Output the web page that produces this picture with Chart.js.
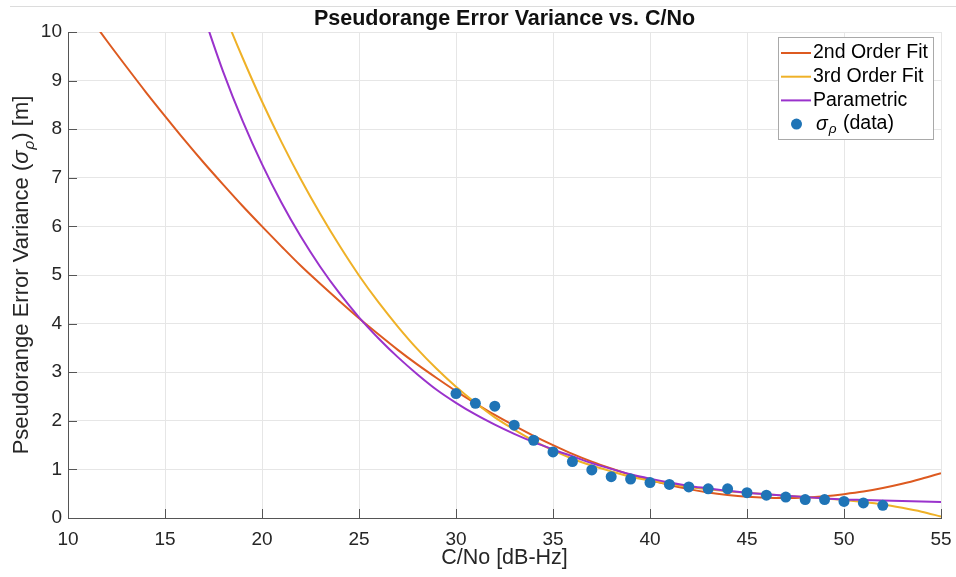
<!DOCTYPE html>
<html>
<head>
<meta charset="utf-8">
<script src="https://cdn.jsdelivr.net/npm/chart.js@4.4.0/dist/chart.umd.min.js"></script>
<style>
  html, body { margin: 0; padding: 0; background: #fff; }
  #wrap { position: relative; width: 956px; height: 577px; }
  #topline { position: absolute; left: 10px; right: 0; top: 6px; height: 1px; background: #dcdcdc; }
</style>
</head>
<body>
<div id="wrap">
  <canvas id="chart" width="956" height="577"></canvas>
  <div id="topline"></div>
</div>
<script>
const fonte = '"Liberation Sans", Arial, Helvetica, sans-serif';

// C/No (dB-Hz) where the fitted curves were read off
const cnoFit2 = [10, 11, 12, 13, 14, 15, 16, 17, 18, 19, 20, 21, 22, 23, 24, 25, 26, 27, 28, 29, 30, 31, 32,
  33, 34, 35, 36, 37, 38, 39, 40, 41, 42, 43, 44, 45, 46, 47, 48, 49, 50, 51, 52, 53, 54, 55];
const fit2 = [10.93, 10.37, 9.82, 9.29, 8.77, 8.27, 7.78, 7.31, 6.86, 6.42, 6.00, 5.59, 5.19, 4.82, 4.46, 4.11,
  3.78, 3.46, 3.16, 2.88, 2.61, 2.36, 2.12, 1.90, 1.69, 1.50, 1.32, 1.16, 1.02, 0.89, 0.78, 0.68, 0.594, 0.526,
  0.475, 0.437, 0.416, 0.411, 0.422, 0.449, 0.491, 0.544, 0.616, 0.703, 0.807, 0.922];

const cnoFit3 = [17, 18, 19, 20, 21, 22, 23, 24, 25, 26, 27, 28, 29, 30, 31, 32, 33, 34, 35, 36, 37, 38, 39,
  40, 41, 42, 43, 44, 45, 46, 47, 48, 49, 50, 51, 52, 53, 54, 55];
const fit3 = [11.46, 10.43, 9.47, 8.57, 7.74, 6.97, 6.26, 5.60, 4.99, 4.44, 3.94, 3.48, 3.07, 2.70, 2.37, 2.07,
  1.82, 1.59, 1.39, 1.22, 1.08, 0.96, 0.85, 0.77, 0.70, 0.64, 0.59, 0.55, 0.52, 0.49, 0.46, 0.43, 0.40, 0.37,
  0.33, 0.28, 0.21, 0.13, 0.03];

const cnoParam = cnoFit3;
const parametrico = [10.33, 9.18, 8.17, 7.28, 6.49, 5.79, 5.17, 4.62, 4.13, 3.70, 3.31, 2.96, 2.64, 2.37, 2.13,
  1.92, 1.73, 1.56, 1.41, 1.27, 1.13, 1.01, 0.90, 0.81, 0.73, 0.66, 0.61, 0.56, 0.52, 0.49, 0.46, 0.43, 0.40,
  0.38, 0.37, 0.36, 0.35, 0.34, 0.33];

// measured sigma_rho
const cnoDados = [30, 31, 32, 33, 34, 35, 36, 37, 38, 39, 40, 41, 42, 43, 44, 45, 46, 47, 48, 49, 50, 51, 52];
const sigmaDados = [2.56, 2.36, 2.30, 1.91, 1.60, 1.36, 1.16, 0.99, 0.85, 0.80, 0.73, 0.69, 0.64, 0.60, 0.60,
  0.52, 0.47, 0.43, 0.38, 0.38, 0.34, 0.31, 0.26];

const nomes = ['2nd Order Fit', '3rd Order Fit', 'Parametric', 'σρ (data)'];
const cores = ['#dd5a20', '#efb127', '#9a32cc', '#1f74b6'];

const pares = (xs, ys) => xs.map((x, i) => ({ x, y: ys[i] }));

// sigma italic with rho subscript, returns width
function sigmaRho(ctx, x, y, tam, medir) {
  ctx.font = `italic ${tam}px ${fonte}`;
  const w1 = ctx.measureText('σ').width;
  if (!medir) ctx.fillText('σ', x, y);
  ctx.font = `italic ${tam * 0.7}px ${fonte}`;
  const w2 = ctx.measureText('ρ').width;
  if (!medir) ctx.fillText('ρ', x + w1 + 1, y + tam * 0.28);
  return w1 + w2 + 2;
}

// title, y label, inward ticks and legend box
const extras = {
  id: 'extras',
  afterDraw(chart) {
    const ctx = chart.ctx;
    const area = chart.chartArea;
    const sx = chart.scales.x, sy = chart.scales.y;
    ctx.save();

    // inward ticks
    ctx.strokeStyle = '#555';
    ctx.lineWidth = 1;
    ctx.beginPath();
    sx.ticks.forEach(t => {
      const px = Math.round(sx.getPixelForValue(t.value)) + 0.5;
      ctx.moveTo(px, area.bottom);
      ctx.lineTo(px, area.bottom - 9);
    });
    sy.ticks.forEach(t => {
      const py = Math.round(sy.getPixelForValue(t.value)) + 0.5;
      ctx.moveTo(area.left, py);
      ctx.lineTo(area.left + 9, py);
    });
    ctx.stroke();

    // title
    ctx.fillStyle = '#111';
    ctx.font = `bold 21.5px ${fonte}`;
    ctx.textAlign = 'center';
    ctx.textBaseline = 'alphabetic';
    ctx.fillText('Pseudorange Error Variance vs. C/No', (area.left + area.right) / 2, 25);

    // y label
    const tam = 22;
    const p1 = 'Pseudorange Error Variance (', p3 = ') [m]';
    ctx.font = `${tam}px ${fonte}`;
    const w1 = ctx.measureText(p1).width;
    const w3 = ctx.measureText(p3).width;
    const w2 = sigmaRho(ctx, 0, 0, tam, true);
    const total = w1 + w2 + w3;
    ctx.translate(28, (area.top + area.bottom) / 2);
    ctx.rotate(-Math.PI / 2);
    ctx.fillStyle = '#262626';
    ctx.textAlign = 'left';
    let x = -total / 2;
    ctx.font = `${tam}px ${fonte}`;
    ctx.fillText(p1, x, 0);
    x += w1;
    sigmaRho(ctx, x, 0, tam, false);
    x += w2;
    ctx.font = `${tam}px ${fonte}`;
    ctx.fillText(p3, x, 0);
    ctx.setTransform(1, 0, 0, 1, 0, 0);

    // legend
    const bx = 778, by = 37, bw = 155, bh = 102;
    ctx.fillStyle = '#fff';
    ctx.fillRect(bx, by, bw, bh);
    ctx.strokeStyle = '#a9a9a9';
    ctx.strokeRect(bx + 0.5, by + 0.5, bw, bh);
    ctx.textBaseline = 'middle';
    chart.data.datasets.forEach((ds, i) => {
      const y = 53 + i * 23.7;
      if (ds.showLine) {
        ctx.strokeStyle = ds.borderColor;
        ctx.lineWidth = 2;
        ctx.beginPath();
        ctx.moveTo(781, y);
        ctx.lineTo(811, y);
        ctx.stroke();
      } else {
        ctx.fillStyle = ds.backgroundColor;
        ctx.beginPath();
        ctx.arc(796.5, y, 5.5, 0, Math.PI * 2);
        ctx.fill();
      }
      ctx.fillStyle = '#000';
      ctx.font = `19.5px ${fonte}`;
      if (ds.label.startsWith('σρ')) {
        const w = sigmaRho(ctx, 816, y, 19.5, false);
        ctx.font = `19.5px ${fonte}`;
        ctx.fillText(ds.label.slice(2), 816 + w, y);
      } else {
        ctx.fillText(ds.label, 813, y);
      }
    });
    ctx.restore();
  }
};

const linha = (i, xs, ys, ordem) => ({
  label: nomes[i],
  data: pares(xs, ys),
  showLine: true,
  borderColor: cores[i],
  backgroundColor: cores[i],
  borderWidth: 2,
  pointRadius: 0,
  cubicInterpolationMode: 'monotone',
  order: ordem
});

const chart = new Chart(document.getElementById('chart'), {
  type: 'scatter',
  data: {
    datasets: [
      linha(0, cnoFit2, fit2, 3),
      linha(1, cnoFit3, fit3, 2),
      linha(2, cnoParam, parametrico, 1),
      {
        label: nomes[3],
        data: pares(cnoDados, sigmaDados),
        showLine: false,
        backgroundColor: cores[3],
        borderColor: cores[3],
        pointRadius: 5.5,
        pointBorderWidth: 0,
        order: 0
      }
    ]
  },
  options: {
    responsive: false,
    animation: false,
    layout: { padding: { top: 32, right: 15, left: 0, bottom: 0 } },
    plugins: {
      legend: { display: false },
      title: { display: false },
      tooltip: { enabled: false }
    },
    scales: {
      x: {
        type: 'linear',
        min: 10,
        max: 55,
        ticks: { stepSize: 5, color: '#262626', font: { family: fonte, size: 19 }, padding: 10, maxRotation: 0 },
        grid: { color: '#e6e6e6', drawTicks: false },
        border: { color: '#555' },
        title: {
          display: true,
          text: 'C/No [dB-Hz]',
          color: '#262626',
          font: { family: fonte, size: 21.5 },
          padding: { top: 0, bottom: 6 }
        },
        afterFit: s => { s.height = 59; s.paddingLeft = 0; s.paddingRight = 0; }
      },
      y: {
        type: 'linear',
        min: 0,
        max: 10,
        ticks: { stepSize: 1, color: '#262626', font: { family: fonte, size: 19 }, padding: 6 },
        grid: { color: '#e6e6e6', drawTicks: false },
        border: { color: '#555' },
        afterFit: s => { s.width = 68; s.paddingTop = 0; s.paddingBottom = 0; }
      }
    }
  },
  plugins: [extras]
});
</script>
</body>
</html>
